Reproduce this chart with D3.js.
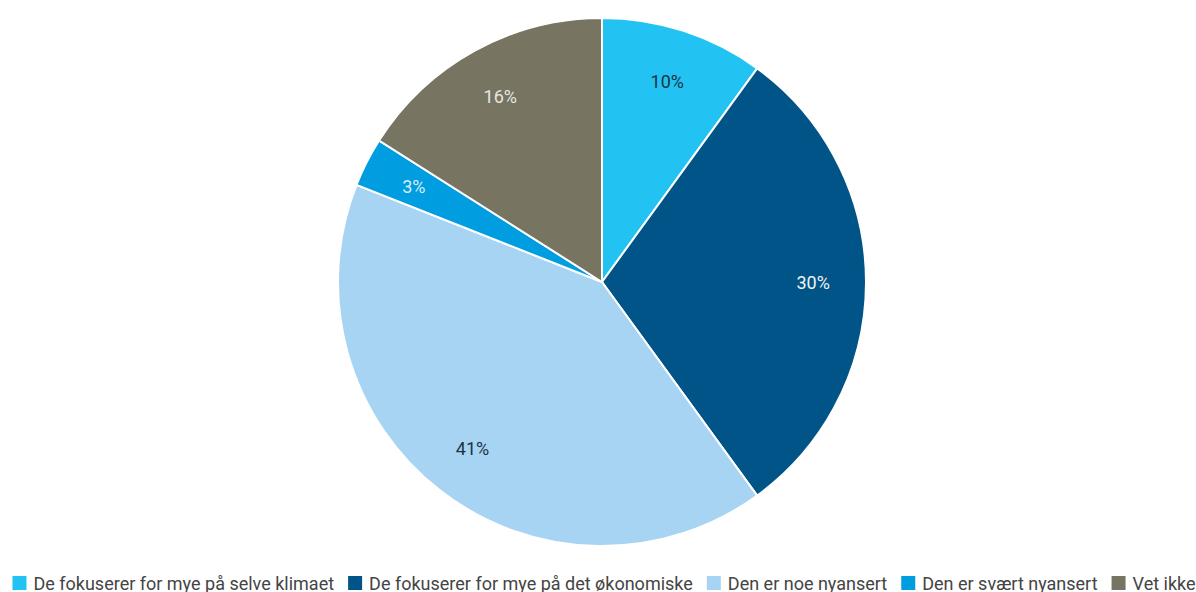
<!DOCTYPE html>
<html>
<head>
<meta charset="utf-8">
<script src="https://cdn.jsdelivr.net/npm/d3@7"></script>
<style>
  html, body { margin: 0; padding: 0; background: #fff; overflow: hidden; }
  svg { display: block; font-family: Roboto, "Noto Sans", sans-serif; }
</style>
</head>
<body>
<div id="chart"></div>
<script>
// Data
const categories = [
    "De fokuserer for mye på selve klimaet",
    "De fokuserer for mye på det økonomiske",
    "Den er noe nyansert",
    "Den er svært nyansert",
    "Vet ikke"
];
const values = [10, 30, 41, 3, 16];
const colors = ["#22c3f3", "#005487", "#a8d4f4", "#009ee0", "#777461"];
const labelColors = ["#1d3344", "#f2f2f2", "#1d3344", "#d8ecf8", "#e6e6e0"];

const width = 1196, height = 592;
const cx = 602, cy = 282, radius = 264;

const svg = d3.select("#chart")
    .append("svg")
    .attr("width", width)
    .attr("height", height);

const data = categories.map((c, i) => ({name: c, value: values[i], color: colors[i], label: labelColors[i]}));

const pie = d3.pie()
    .value(d => d.value)
    .sort(null);

const arc = d3.arc()
    .innerRadius(0)
    .outerRadius(radius);

const labelArc = d3.arc()
    .innerRadius(radius * 0.8)
    .outerRadius(radius * 0.8);

const g = svg.append("g")
    .attr("transform", `translate(${cx},${cy})`);

const arcs = pie(data);

g.selectAll(".slice")
    .data(arcs)
    .enter()
    .append("path")
    .attr("class", "slice")
    .attr("d", arc)
    .attr("fill", d => d.data.color)
    .attr("stroke", "#fff")
    .attr("stroke-width", 2);

g.selectAll(".pct")
    .data(arcs)
    .enter()
    .append("text")
    .attr("class", "pct")
    .attr("transform", d => `translate(${labelArc.centroid(d)})`)
    .attr("text-anchor", "middle")
    .attr("dominant-baseline", "central")
    .attr("font-size", 18)
    .attr("fill", d => d.data.label)
    .text(d => d.data.value + "%");

// Legend
const sw = 14, gapText = 7, gapItem = 14;
const legend = svg.append("g").attr("class", "legend");

const items = legend.selectAll(".item")
    .data(data)
    .enter()
    .append("g")
    .attr("class", "item");

items.append("rect")
    .attr("width", sw)
    .attr("height", sw)
    .attr("y", -sw / 2)
    .attr("fill", d => d.color);

items.append("text")
    .attr("x", sw + gapText)
    .attr("dominant-baseline", "central")
    .attr("font-size", 18)
    .attr("fill", "#444")
    .text(d => d.name);

let xPos = 0;
const offsets = [];
items.each(function() {
    const w = d3.select(this).select("text").node().getComputedTextLength();
    offsets.push(xPos);
    xPos += sw + gapText + w + gapItem;
});
const total = xPos - gapItem;
const startX = 604 - total / 2;

items.attr("transform", (d, i) => `translate(${startX + offsets[i]},583)`);
</script>
</body>
</html>
